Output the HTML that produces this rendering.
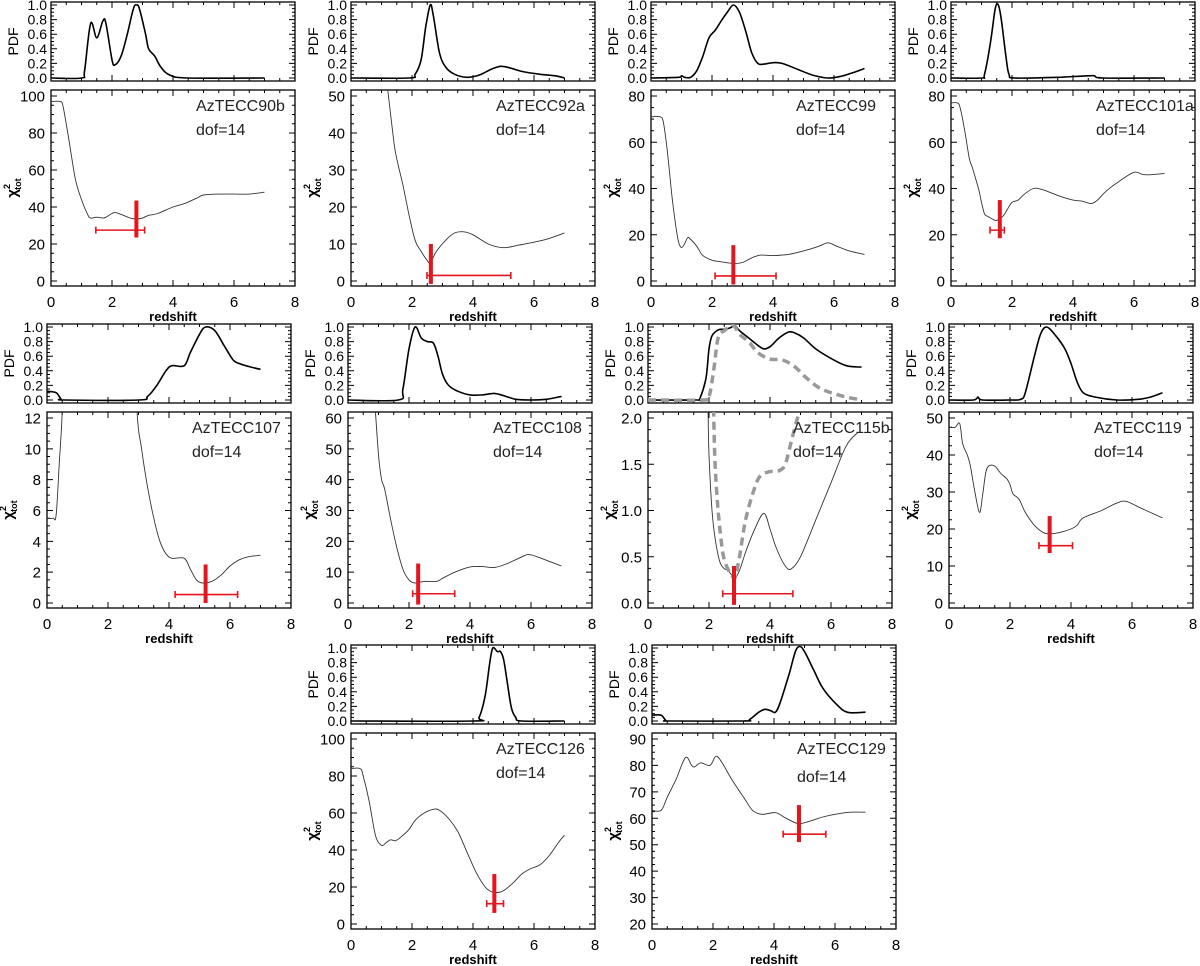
<!DOCTYPE html>
<html><head><meta charset="utf-8">
<style>
html,body{margin:0;padding:0;background:#fff;}
svg{display:block;font-family:"Liberation Sans",sans-serif;}
</style></head>
<body>
<svg id="fig" width="1200" height="966" viewBox="0 0 1200 966" xmlns="http://www.w3.org/2000/svg"></svg>
<script>
// ---- data arrays: [redshift, value] ----
const pdf90b=[[0,0],[1.0,0],[1.1,0.1],[1.3,0.75],[1.5,0.55],[1.7,0.78],[1.8,0.75],[2.0,0.25],[2.1,0.18],[2.3,0.3],[2.5,0.6],[2.7,0.95],[2.8,1.0],[2.9,0.95],[3.1,0.6],[3.2,0.4],[3.4,0.3],[3.6,0.15],[3.9,0.04],[4.5,0],[7,0]];
const chi90b=[[0,97],[0.3,97],[0.4,94],[0.6,75],[0.8,55],[1.0,44],[1.2,36],[1.3,34],[1.5,34.5],[1.7,34],[1.8,34.5],[2.0,36.5],[2.1,37],[2.3,36],[2.6,34],[2.8,33.5],[3.0,34],[3.2,35.5],[3.5,36.5],[4.0,40],[4.4,42],[4.8,45],[5.0,46.5],[5.5,47],[6,47],[6.5,47],[7,48]];
const pdf92a=[[0,0],[1.9,0],[2.1,0.05],[2.3,0.25],[2.45,0.7],[2.6,1.0],[2.7,0.85],[2.9,0.35],[3.1,0.15],[3.4,0.05],[3.8,0.01],[4.2,0.04],[4.6,0.12],[4.9,0.16],[5.2,0.14],[5.6,0.09],[6.2,0.05],[6.7,0.03],[7,0]];
const chi92a=[[1.2,52],[1.4,38],[1.5,33],[1.7,26],[1.9,18],[2.1,11],[2.3,8],[2.5,5.5],[2.6,5],[2.8,8],[3.1,11],[3.4,13],[3.7,13.3],[4.0,12.5],[4.5,10],[5.0,9],[5.5,9.7],[6.0,10.5],[6.5,11.5],[7,13]];
const pdf99=[[0,0],[0.9,0.01],[1.0,0.03],[1.1,0.01],[1.3,0.01],[1.5,0.1],[1.7,0.3],[1.9,0.55],[2.1,0.65],[2.3,0.78],[2.5,0.9],[2.7,1.0],[2.9,0.9],[3.1,0.65],[3.3,0.35],[3.5,0.2],[3.7,0.19],[4.0,0.21],[4.3,0.2],[4.8,0.12],[5.3,0.04],[5.8,0.0],[6.2,0.02],[6.6,0.07],[7,0.13]];
const chi99=[[0,71],[0.3,71],[0.4,69],[0.5,60],[0.6,48],[0.7,35],[0.8,25],[0.9,17],[1.0,14.5],[1.1,16],[1.2,18.7],[1.3,18],[1.5,15],[1.7,11],[2.0,9],[2.3,8.3],[2.7,7.6],[3.0,8],[3.3,10],[3.6,11.2],[4.0,11],[4.5,11.5],[5.0,13],[5.5,15],[5.8,16.5],[6.1,15],[6.5,13],[7,11.5]];
const pdf101a=[[0,0],[1.0,0],[1.1,0.05],[1.3,0.5],[1.45,0.95],[1.55,1.0],[1.65,0.8],[1.8,0.3],[1.9,0.05],[2.1,0],[3.5,0.01],[4.0,0.02],[4.5,0.03],[4.7,0.03],[5,0],[7,0]];
const chi101a=[[0,77],[0.2,77],[0.3,75],[0.45,65],[0.6,53],[0.7,49],[0.9,40],[1.0,34],[1.1,29],[1.2,28],[1.4,26.5],[1.5,26.2],[1.7,28],[1.85,31],[2.0,34],[2.2,35],[2.4,37.5],[2.7,40],[3.0,39.5],[3.5,37],[4.0,35],[4.3,34.5],[4.6,33.5],[4.8,35],[5.1,39],[5.5,43],[6.0,47],[6.3,46],[6.6,46],[7,46.5]];
const pdf107=[[0,0.12],[0.3,0.1],[0.45,0.02],[0.6,0],[3.0,0],[3.3,0.05],[3.6,0.2],[3.9,0.4],[4.1,0.47],[4.5,0.47],[4.7,0.65],[5.0,0.9],[5.2,1.0],[5.5,0.95],[5.8,0.75],[6.1,0.55],[6.3,0.5],[6.6,0.46],[7,0.42]];
const chi107=[[0,5.5],[0.2,5.5],[0.3,5.7],[0.4,9],[0.5,12.5],[0.6,20],[2.85,20],[2.95,12.5],[3.1,10],[3.3,7.5],[3.5,5.5],[3.7,4],[3.9,3.2],[4.1,2.9],[4.5,2.9],[4.7,2.2],[4.9,1.5],[5.1,1.3],[5.4,1.4],[5.7,1.8],[6.0,2.4],[6.3,2.8],[6.6,3.0],[7,3.1]];
const pdf108=[[0,0],[1.65,0],[1.8,0.15],[2.0,0.7],[2.2,1.0],[2.4,0.85],[2.6,0.8],[2.8,0.78],[2.95,0.6],[3.1,0.35],[3.3,0.2],[3.6,0.12],[4.0,0.07],[4.4,0.07],[4.8,0.09],[5.1,0.06],[5.5,0.01],[6,0],[6.5,0.01],[7,0.05]];
const chi108=[[0.9,62],[1.0,48],[1.1,40],[1.2,37],[1.4,27],[1.6,18],[1.8,11],[2.0,7.5],[2.2,6.5],[2.5,7],[2.9,7],[3.1,8],[3.5,10],[4.0,11.7],[4.4,11.8],[4.8,11.5],[5.2,12.7],[5.6,14.5],[5.9,15.7],[6.2,15],[6.6,13.5],[7,12]];
const pdf115b=[[0,0],[1.6,0],[1.7,0.02],[1.9,0.3],[2.0,0.7],[2.1,0.88],[2.3,0.96],[2.5,0.97],[2.7,0.99],[2.85,1.02],[3.0,0.95],[3.3,0.85],[3.6,0.75],[3.8,0.7],[4.0,0.73],[4.3,0.85],[4.6,0.93],[4.8,0.92],[5.1,0.85],[5.5,0.7],[6.0,0.57],[6.5,0.47],[7,0.45]];
const pdf115bAlt=[[0,0],[1.8,0],[2.0,0.05],[2.15,0.4],[2.3,0.85],[2.5,0.95],[2.8,1.02],[3.0,0.9],[3.3,0.8],[3.6,0.65],[4.0,0.56],[4.4,0.55],[4.8,0.46],[5.2,0.3],[5.6,0.17],[6.0,0.1],[6.5,0.04],[7,0.0]];
const chi115b=[[1.97,2.1],[2.0,1.6],[2.1,1.0],[2.2,0.7],[2.35,0.45],[2.5,0.37],[2.6,0.36],[2.75,0.3],[2.85,0.27],[3.0,0.35],[3.2,0.55],[3.5,0.8],[3.8,0.97],[4.0,0.8],[4.2,0.6],[4.5,0.4],[4.7,0.37],[5.0,0.5],[5.5,0.9],[6.0,1.3],[6.5,1.7],[6.9,1.85]];
const chi115bAlt=[[2.15,2.1],[2.2,1.5],[2.3,1.0],[2.45,0.55],[2.6,0.38],[2.75,0.3],[2.85,0.27],[3.0,0.5],[3.2,0.9],[3.5,1.25],[3.7,1.38],[4.0,1.42],[4.3,1.43],[4.5,1.5],[4.7,1.75],[4.9,2.0],[5.0,2.1]];
const pdf119=[[0,0],[0.8,0],[0.95,0.04],[1.1,0],[2.0,0],[2.35,0.01],[2.5,0.1],[2.8,0.6],[3.0,0.9],[3.2,1.0],[3.5,0.88],[3.8,0.7],[4.0,0.5],[4.2,0.25],[4.4,0.1],[4.8,0.04],[5.5,0],[6.2,0.01],[6.6,0.04],[7,0.1]];
const chi119=[[0,47.5],[0.2,47.5],[0.35,48.5],[0.45,43],[0.6,40],[0.7,37],[0.85,30],[1.0,24.5],[1.1,29],[1.2,35],[1.3,37],[1.5,37],[1.7,35],[1.9,33.5],[2.0,32],[2.1,29.5],[2.3,28],[2.5,24.5],[2.8,21],[3.1,19],[3.3,18.7],[3.6,19],[4.0,20],[4.2,21],[4.4,23],[5.0,25],[5.5,27],[5.8,27.5],[6.2,26],[6.6,24.5],[7,23]];
const pdf126=[[0,0],[4.0,0],[4.2,0.05],[4.4,0.35],[4.55,0.8],[4.65,1.0],[4.8,0.95],[4.9,0.95],[5.0,0.85],[5.1,0.6],[5.25,0.2],[5.4,0.05],[5.6,0],[7,0]];
const chi126=[[0,84],[0.3,84],[0.4,80],[0.6,66],[0.8,48],[1.0,42.5],[1.15,44],[1.3,45.5],[1.45,45],[1.6,46.5],[1.9,51],[2.1,56],[2.4,60],[2.7,62],[2.9,61.5],[3.2,57],[3.5,50],[3.8,39],[4.1,28],[4.4,20],[4.6,17.5],[4.8,17],[5.0,18],[5.3,22],[5.6,27],[5.9,30],[6.2,32],[6.5,37],[6.8,44],[7,48]];
const pdf129=[[0,0.08],[0.3,0.08],[0.45,0.01],[0.6,0],[3.0,0],[3.2,0.02],[3.5,0.12],[3.7,0.16],[3.9,0.14],[4.05,0.12],[4.2,0.25],[4.5,0.65],[4.7,0.95],[4.85,1.02],[5.0,0.95],[5.3,0.7],[5.6,0.45],[6.0,0.25],[6.4,0.12],[7,0.12]];
const chi129=[[0,63],[0.3,63],[0.5,68],[0.8,75],[1.1,83],[1.3,80],[1.4,79.5],[1.6,81],[1.9,80],[2.1,83.5],[2.3,81],[2.6,75],[3.0,68],[3.3,63],[3.6,61.5],[3.9,62],[4.1,62],[4.4,60],[4.8,58],[5.2,59],[5.6,60.5],[6.0,61.5],[6.5,62.3],[7,62.3]];
// best-fit redshift and error bars: [zBest, chiLow, chiHigh, zLow, zHigh, chiBar]
const err90b=[2.8,23.5,43.5,1.47,3.07,27.5];
const err92a=[2.62,-0.8,10,2.49,5.24,1.5];
const err99=[2.7,-1.5,15.5,2.1,4.1,2.2];
const err101a=[1.6,18.5,35,1.28,1.75,22];
const err107=[5.2,0,2.5,4.2,6.25,0.55];
const err108=[2.3,-0.5,12.8,2.12,3.5,3];
const err115b=[2.82,-0.02,0.4,2.45,4.75,0.1];
const err119=[3.3,13.5,23.5,2.95,4.05,15.5];
const err126=[4.7,6,27,4.45,5.0,11];
const err129=[4.82,51,65,4.3,5.7,54];
const names=["AzTECC90b","AzTECC92a","AzTECC99","AzTECC101a","AzTECC107","AzTECC108","AzTECC115b","AzTECC119","AzTECC126","AzTECC129"];
const xTicks=[0,2,4,6,8];
const pdfTicks=[0,0.2,0.4,0.6,0.8,1.0];

const rowTop=[2,324,645];
const W=244;
const panels=[
 {x0:51,row:0,ymin:0,ymax:100,step:20,pdf:pdf90b,chi:chi90b,err:err90b},
 {x0:351,row:0,ymin:0,ymax:50,step:10,pdf:pdf92a,chi:chi92a,err:err92a},
 {x0:651,row:0,ymin:0,ymax:80,step:20,pdf:pdf99,chi:chi99,err:err99},
 {x0:951,row:0,ymin:0,ymax:80,step:20,pdf:pdf101a,chi:chi101a,err:err101a},
 {x0:47,row:1,ymin:0,ymax:12,step:2,pdf:pdf107,chi:chi107,err:err107},
 {x0:348,row:1,ymin:0,ymax:60,step:10,pdf:pdf108,chi:chi108,err:err108},
 {x0:648,row:1,ymin:0,ymax:2,step:0.5,pdf:pdf115b,pdf2:pdf115bAlt,chi:chi115b,chi2:chi115bAlt,err:err115b,dec:1},
 {x0:949,row:1,ymin:0,ymax:50,step:10,pdf:pdf119,chi:chi119,err:err119},
 {x0:351,row:2,ymin:0,ymax:100,step:20,pdf:pdf126,chi:chi126,err:err126},
 {x0:652,row:2,ymin:20,ymax:90,step:10,pdf:pdf129,chi:chi129,err:err129,dofGap:28}
];
const svg=document.getElementById('fig');
const NS='http://www.w3.org/2000/svg';
function mk(tag,attrs,parent){const e=document.createElementNS(NS,tag);for(const k in attrs)e.setAttribute(k,attrs[k]);(parent||svg).appendChild(e);return e;}
const defs=mk('defs',{});
const RED='#e4151f';

function smooth(pts){
  if(pts.length<3)return pts.map((q,j)=>(j?'L':'M')+q[0]+','+q[1]).join('');
  let d='M'+pts[0][0].toFixed(1)+','+pts[0][1].toFixed(1);
  for(let j=0;j<pts.length-1;j++){
    const p0=pts[j-1]||pts[j],p1=pts[j],p2=pts[j+1],p3=pts[j+2]||p2;
    const c1x=p1[0]+(p2[0]-p0[0])/6,c1y=p1[1]+(p2[1]-p0[1])/6;
    const c2x=p2[0]-(p3[0]-p1[0])/6,c2y=p2[1]-(p3[1]-p1[1])/6;
    d+=`C${c1x.toFixed(1)},${c1y.toFixed(1)} ${c2x.toFixed(1)},${c2y.toFixed(1)} ${p2[0].toFixed(1)},${p2[1].toFixed(1)}`;
  }
  return d;
}

panels.forEach((p,i)=>{
  const g=mk('g',{});
  
  
  const x0=p.x0, pt=rowTop[p.row], ph=79, ct=pt+88, ch=196;
  const X=z=>x0+z/8*W;
  const YP=v=>pt+ph-3-v*(ph-6);
  const YC=v=>ct+ch-5-(v-p.ymin)/(p.ymax-p.ymin)*(ch-11);
  const cp=mk('clipPath',{id:'cp'+i},defs); mk('rect',{x:x0,y:ct,width:W,height:ch},cp);
  const cq=mk('clipPath',{id:'cq'+i},defs); mk('rect',{x:x0,y:pt,width:W,height:ph},cq);
  const pb=mk('rect',{x:x0,y:pt,width:W,height:ph,fill:'none',stroke:'#000','stroke-width':1.3},g);
  
  
  const cb=mk('rect',{x:x0,y:ct,width:W,height:ch,fill:'none',stroke:'#000','stroke-width':1.3},g);
  
  
  let d='';
  for(let z=0;z<=8.001;z+=0.5){const major=Math.abs(z%2)<1e-6;const L=major?6:3;const x=X(z);
    d+=`M${x},${pt+ph}v${-L}M${x},${pt}v${L}M${x},${ct+ch}v${-L}M${x},${ct}v${L}`;}
  for(let v=0;v<=1.0001;v+=0.05){const major=Math.abs(Math.round(v*5)-v*5)<1e-6;const L=major?6:3;const y=YP(v);
    d+=`M${x0},${y}h${L}M${x0+W},${y}h${-L}`;}
  const mstep=p.step/4;
  for(let v=p.ymin;v<=p.ymax+1e-6;v+=mstep){const k=(v-p.ymin)/p.step;const major=Math.abs(k-Math.round(k))<1e-6;const L=major?6:3;const y=YC(v);
    d+=`M${x0},${y}h${L}M${x0+W},${y}h${-L}`;}
  mk('path',{d:d,stroke:'#000','stroke-width':1,fill:'none'},g);
  xTicks.forEach(t=>{const tx=mk('text',{x:X(t),y:ct+ch+21,'font-size':15,'text-anchor':'middle'},g);tx.textContent=t;
    
    });
  pdfTicks.forEach(t=>{const tx=mk('text',{x:x0-4,y:YP(t)+5,'font-size':14,'text-anchor':'end'},g);tx.textContent=t.toFixed(1);
    
    });
  for(let v=p.ymin;v<=p.ymax+1e-6;v+=p.step){const tx=mk('text',{x:x0-6,y:YC(v)+5.5,'font-size':15,'text-anchor':'end'},g);tx.textContent=p.dec?v.toFixed(1):String(Math.round(v));
    
    }
  const pl=mk('text',{x:0,y:0,'font-size':14,'text-anchor':'middle',transform:`translate(${x0-33},${pt+ph/2}) rotate(-90)`},g);pl.textContent='PDF';
  
  
  const cl=mk('text',{x:0,y:0,'font-size':15,'font-weight':'bold','text-anchor':'middle',transform:`translate(${x0-34},${ct+ch/2}) rotate(-90)`},g);
  
  
  const t1=mk('tspan',{},cl);t1.textContent='χ';
  const t2=mk('tspan',{'font-size':9,dy:-7},cl);t2.textContent='2';
  const t3=mk('tspan',{'font-size':9,dx:-6,dy:11},cl);t3.textContent='tot';
  const xl=mk('text',{x:x0+W/2,y:ct+ch+35,'font-size':13,'font-weight':'bold','text-anchor':'middle'},g);xl.textContent='redshift';
  
  
  const path=(arr,Y)=>smooth(arr.map(q=>[X(q[0]),Y(q[1])]));
  const pc=mk('path',{d:path(p.pdf,YP),fill:'none',stroke:'#000','stroke-width':1.6,'clip-path':`url(#cq${i})`},g);
  
  
  if(p.pdf2){const e=mk('path',{d:path(p.pdf2,YP),fill:'none',stroke:'#999','stroke-width':3.5,'stroke-dasharray':'8,5','clip-path':`url(#cq${i})`},g);
    
    }
  const cc=mk('path',{d:path(p.chi,YC),fill:'none',stroke:'#333','stroke-width':0.9,'clip-path':`url(#cp${i})`},g);
  
  
  if(p.chi2){const e=mk('path',{d:path(p.chi2,YC),fill:'none',stroke:'#999','stroke-width':3.5,'stroke-dasharray':'8,5','clip-path':`url(#cp${i})`},g);
    
    }
  const nm=mk('text',{x:x0+145,y:ct+21,'font-size':16,fill:'#222'},g);nm.textContent=names[i];
  
  
  const df=mk('text',{x:x0+145,y:ct+21+(p.dofGap||24),'font-size':16,fill:'#222'},g);df.textContent='dof=14';
  
  
  const e=p.err;
  const eg=mk('g',{},g);
  
  
  const yb=YC(e[5]);
  mk('path',{d:`M${X(e[3])},${yb}H${X(e[4])}M${X(e[3])},${yb-3.5}v7M${X(e[4])},${yb-3.5}v7`,stroke:RED,'stroke-width':1.6,fill:'none'},eg);
  mk('path',{d:`M${X(e[0])},${YC(e[1])}V${YC(e[2])}`,stroke:RED,'stroke-width':4,fill:'none'},eg);
});
</script>
</body></html>
